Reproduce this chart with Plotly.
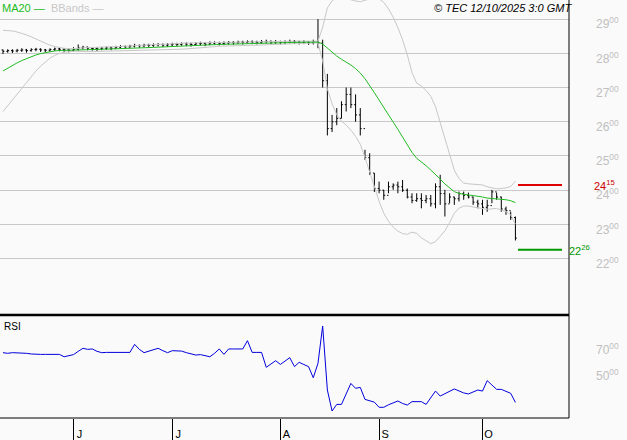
import pandas as pd
import plotly.graph_objs as go

# daily bars, 2025-05-12 .. 2025-10-10
close = [2806, 2808, 2807, 2809, 2810, 2808, 2811, 2812, 2810, 2809,
         2811, 2813, 2812, 2810, 2809, 2812, 2816, 2818, 2815, 2814,
         2813, 2815, 2816, 2815, 2818, 2820, 2819, 2821, 2823, 2822,
         2824, 2823, 2825, 2826, 2824, 2825, 2827, 2826, 2828, 2827,
         2826, 2828, 2829, 2827, 2830, 2831, 2829, 2830, 2832, 2831,
         2833, 2832, 2834, 2833, 2832, 2834, 2835, 2833, 2834, 2832,
         2833, 2835, 2834, 2832, 2833, 2831, 2834,
         2830, 2720, 2580, 2600, 2610, 2650, 2680, 2650, 2620, 2580,
         2495, 2450, 2405, 2400, 2385, 2410, 2415, 2410, 2400, 2380,
         2370, 2375, 2370, 2375, 2360, 2410, 2390, 2360, 2380, 2375,
         2390, 2385, 2380, 2365, 2360, 2350, 2355, 2395, 2380, 2345,
         2340, 2320, 2260]
high = [2811, 2812, 2812, 2813, 2815, 2813, 2815, 2816, 2815, 2813,
        2815, 2817, 2816, 2815, 2814, 2818, 2826, 2822, 2820, 2818,
        2818, 2819, 2820, 2820, 2822, 2824, 2823, 2825, 2828, 2826,
        2828, 2828, 2829, 2830, 2829, 2830, 2831, 2831, 2832, 2832,
        2831, 2832, 2834, 2832, 2835, 2835, 2834, 2835, 2836, 2836,
        2837, 2837, 2838, 2838, 2837, 2839, 2840, 2838, 2839, 2837,
        2838, 2840, 2839, 2837, 2838, 2836, 2840,
        2900, 2840, 2740, 2620, 2640, 2660, 2700, 2700, 2680, 2640,
        2518, 2508, 2450, 2425, 2401, 2425, 2420, 2425, 2430, 2405,
        2391, 2391, 2391, 2386, 2386, 2420, 2445, 2401, 2391, 2381,
        2396, 2396, 2393, 2381, 2372, 2372, 2372, 2401, 2393, 2381,
        2352, 2337, 2323]
low = [2798, 2802, 2801, 2803, 2804, 2802, 2805, 2806, 2804, 2803,
       2805, 2807, 2806, 2804, 2803, 2806, 2808, 2811, 2809, 2808,
       2807, 2809, 2810, 2809, 2812, 2814, 2813, 2815, 2817, 2816,
       2818, 2817, 2819, 2820, 2818, 2819, 2821, 2820, 2822, 2821,
       2820, 2822, 2823, 2821, 2824, 2825, 2823, 2824, 2826, 2825,
       2827, 2826, 2828, 2827, 2826, 2828, 2829, 2827, 2828, 2826,
       2827, 2829, 2828, 2826, 2827, 2825, 2826,
       2815, 2700, 2560, 2570, 2590, 2610, 2630, 2640, 2600, 2560,
       2489, 2445, 2395, 2391, 2372, 2391, 2401, 2391, 2395, 2376,
       2362, 2366, 2347, 2362, 2352, 2347, 2357, 2323, 2362, 2357,
       2367, 2372, 2376, 2357, 2347, 2328, 2337, 2362, 2372, 2337,
       2328, 2313, 2253]
# closes before the window, only used to seed the 20-day average
history = [2640, 2650, 2660, 2675, 2690, 2700, 2715, 2730, 2745, 2760,
           2775, 2785, 2795, 2800, 2805, 2808, 2810, 2812, 2810]
rsi = [67.5, 67.0, 67.5, 67.5, 67.5, 67.0, 66.5, 66.2, 66.2, 66.2,
       66.2, 66.2, 66.2, 64.4, 65.0, 66.0, 68.5, 70.8, 70.0, 70.3,
       68.5, 67.5, 67.7, 67.7, 67.7, 67.7, 67.7, 67.7, 73.8, 70.0,
       67.5, 68.5, 69.5, 70.8, 69.0, 67.5, 69.0, 68.8, 68.7, 67.5,
       66.5, 65.7, 66.0, 65.2, 64.4, 67.0, 70.3, 66.2, 70.3, 70.3,
       70.3, 70.3, 76.6, 67.7, 67.7, 67.7, 56.4, 59.0, 61.4, 58.6,
       61.0, 63.7, 56.9, 60.2, 58.5, 56.9, 48.5, 59.4, 87.7, 39.2,
       23.3, 28.3, 28.3, 36.0, 44.2, 40.5, 41.2, 32.1, 31.0, 30.0,
       26.1, 26.1, 28.0, 29.5, 30.9, 29.0, 27.8, 30.4, 30.4, 30.4,
       28.3, 33.0, 38.4, 34.6, 36.5, 38.5, 40.0, 38.5, 37.0, 36.2,
       37.5, 39.2, 38.4, 46.3, 43.0, 39.7, 39.7, 38.0, 36.7, 29.8]
month_letters = ["J", "J", "A", "S", "O"]
resistance = 2415
support = 2226

dates = pd.bdate_range("2025-05-12", periods=len(close))
idx = list(range(len(close)))
opn = [history[-1]] + close[:-1]

full = pd.Series(history + close)
ma = full.rolling(20).mean().iloc[len(history):]
sd = full.rolling(20).std(ddof=0).iloc[len(history):]
upper = ma + 2 * sd
lower = ma - 2 * sd

month_start = [i for i in idx[1:] if dates[i].month != dates[i - 1].month]

fig = go.Figure()
for band in (upper, lower):
    fig.add_trace(go.Scatter(x=idx, y=band.values, mode="lines",
                             line=dict(color="#c8c8c8", width=1), hoverinfo="skip"))
fig.add_trace(go.Scatter(x=idx, y=ma.values, mode="lines",
                         line=dict(color="#22bb22", width=1)))
fig.add_trace(go.Ohlc(x=idx, open=opn, high=high, low=low, close=close,
                      increasing_line_color="black", decreasing_line_color="black",
                      line_width=1, tickwidth=0.3))
fig.add_trace(go.Scatter(x=idx, y=rsi, mode="lines", xaxis="x2", yaxis="y2",
                         line=dict(color="#0000dd", width=1)))

xr = [-0.64, 120.4]
xdom = [0, 569 / 627]
fig.update_layout(
    width=627, height=440, margin=dict(l=0, r=0, t=0, b=0),
    paper_bgcolor="#fafafa", plot_bgcolor="#fafafa", showlegend=False,
    font=dict(family="Liberation Sans", size=11, color="black"),
    xaxis=dict(domain=xdom, range=xr, showticklabels=False, showgrid=False,
               zeroline=False, rangeslider=dict(visible=False), automargin=False),
    yaxis=dict(domain=[0.284, 1], range=[2035, 2956], side="right",
               tickvals=list(range(2200, 2901, 100)),
               ticktext=[f"{v // 100}<sup>00</sup>" for v in range(2200, 2901, 100)],
               tickfont=dict(color="#c0c0c0", size=12), ticks="",
               ticklabelstandoff=26, ticklabelshift=5, automargin=False,
               gridcolor="#c8c8c8", gridwidth=1, zeroline=False),
    xaxis2=dict(domain=xdom, range=xr, anchor="y2", showgrid=False, zeroline=False,
                tickvals=month_start, ticktext=month_letters, ticks="outside",
                ticklen=22, tickcolor="black", ticklabelshift=6, ticklabelstandoff=-16,
                tickfont=dict(size=11), automargin=False),
    yaxis2=dict(domain=[0.05, 0.284], range=[18, 96], side="right", anchor="x2",
                tickvals=[50, 70], ticktext=["50<sup>00</sup>", "70<sup>00</sup>"],
                tickfont=dict(color="#c0c0c0", size=12), ticks="", automargin=False,
                ticklabelstandoff=26, showgrid=False, zeroline=False),
)

black = dict(color="black", width=1)
fig.add_shape(type="line", xref="paper", yref="paper", x0=569 / 627, x1=569 / 627,
              y0=0.05, y1=1, line=black)
fig.add_shape(type="line", xref="paper", yref="paper", x0=0, x1=569 / 627,
              y0=0.284, y1=0.284, line=dict(color="black", width=2.5))
fig.add_shape(type="line", xref="paper", yref="paper", x0=0, x1=569 / 627,
              y0=0.05, y1=0.05, line=black)
fig.add_shape(type="line", xref="paper", yref="y", x0=518 / 627, x1=562 / 627,
              y0=resistance, y1=resistance, line=dict(color="#dd0000", width=2))
fig.add_shape(type="line", xref="paper", yref="y", x0=518 / 627, x1=562 / 627,
              y0=support, y1=support, line=dict(color="#009900", width=2))

fig.add_annotation(xref="paper", yref="y", x=592 / 627, y=resistance, xanchor="left",
                   text=f"{resistance // 100}<sup>{resistance % 100}</sup>",
                   showarrow=False, font=dict(color="#cc0000", size=11))
fig.add_annotation(xref="paper", yref="y", x=567 / 627, y=support, xanchor="left",
                   text=f"{support // 100}<sup>{support % 100}</sup>",
                   showarrow=False, font=dict(color="#009900", size=11))
fig.add_annotation(xref="paper", yref="paper", x=0, y=1, xanchor="left", yanchor="top",
                   text="<span style='color:#22bb22'>MA20 —</span>  "
                        "<span style='color:#c8c8c8'>BBands —</span>",
                   showarrow=False, font=dict(size=11))
fig.add_annotation(xref="paper", yref="paper", x=574 / 627, y=1, xanchor="right",
                   yanchor="top", text="<i>© TEC 12/10/2025 3:0 GMT</i>",
                   showarrow=False, font=dict(size=11))
fig.add_annotation(xref="paper", yref="paper", x=2 / 627, y=0.275, xanchor="left",
                   yanchor="top", text="RSI", showarrow=False, font=dict(size=10))

fig.write_html("out.html", config={"displayModeBar": False},
               post_script="document.body.style.margin='0';")
